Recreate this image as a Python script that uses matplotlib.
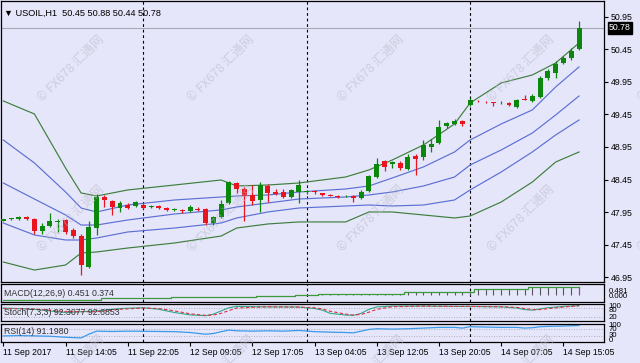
import numpy as np
import matplotlib
matplotlib.use('Agg')
import matplotlib.pyplot as plt
from matplotlib.transforms import blended_transform_factory

# ── candle data (USOIL H1) ───────────────────────────────
opens = [47.82, 47.84, 47.84, 47.88, 47.845, 47.655, 47.73, 47.80, 47.83, 47.675,
         47.585, 47.115, 47.705, 48.18, 48.12, 48.02, 48.065, 48.045, 48.065, 48.03,
         48.05, 48.02, 47.985, 47.99, 47.965, 48.005, 48.005, 47.79, 47.88, 48.09,
         48.39, 48.30, 48.22, 48.135, 48.35, 48.265, 48.265, 48.18, 48.265, 48.26,
         48.265, 48.245, 48.22, 48.20, 48.19, 48.195, 48.165, 48.275, 48.49, 48.735,
         48.69, 48.705, 48.61, 48.81, 48.795, 48.95, 49.01, 49.27, 49.30, 49.35,
         49.595, 49.655, 49.64, 49.635, 49.633, 49.62, 49.565, 49.685, 49.655, 49.715,
         50.01, 50.085, 50.24, 50.315, 50.45]
highs = [47.85, 47.855, 47.89, 47.89, 47.855, 47.79, 47.94, 47.84, 47.84, 47.70,
         47.615, 47.82, 48.23, 48.21, 48.135, 48.12, 48.09, 48.12, 48.085, 48.06,
         48.06, 48.03, 48.015, 48.00, 48.06, 48.035, 48.02, 47.89, 48.135, 48.435,
         48.41, 48.33, 48.365, 48.415, 48.38, 48.305, 48.305, 48.305, 48.445, 48.29,
         48.29, 48.25, 48.23, 48.205, 48.22, 48.21, 48.29, 48.52, 48.78, 48.75,
         48.735, 48.735, 48.84, 48.84, 49.055, 49.07, 49.365, 49.335, 49.38, 49.365,
         49.70, 49.665, 49.65, 49.64, 49.656, 49.64, 49.685, 49.75, 49.765, 50.04,
         50.145, 50.27, 50.345, 50.47, 50.88]
lows = [47.81, 47.835, 47.835, 47.835, 47.61, 47.61, 47.715, 47.645, 47.61, 47.555,
        46.985, 47.09, 47.60, 48.03, 47.905, 47.95, 48.00, 48.03, 48.00, 48.01,
        48.00, 47.965, 47.965, 47.935, 47.95, 47.96, 47.75, 47.75, 47.86, 48.075,
        48.245, 47.815, 48.06, 47.955, 48.11, 48.205, 48.165, 48.165, 48.09, 48.235,
        48.23, 48.195, 48.19, 48.165, 48.18, 48.11, 48.15, 48.26, 48.475, 48.58,
        48.625, 48.595, 48.595, 48.52, 48.75, 48.875, 48.995, 49.24, 49.285, 49.27,
        49.58, 49.64, 49.625, 49.58, 49.61, 49.58, 49.55, 49.665, 49.64, 49.70,
        49.98, 50.01, 50.225, 50.285, 50.44]
closes = [47.84, 47.845, 47.875, 47.845, 47.655, 47.74, 47.815, 47.82, 47.645, 47.59,
          47.14, 47.715, 48.18, 48.13, 48.03, 48.09, 48.02, 48.10, 48.02, 48.05,
          48.02, 47.985, 48.00, 47.965, 48.03, 47.985, 47.79, 47.87, 48.08, 48.405,
          48.305, 48.19, 48.115, 48.365, 48.245, 48.235, 48.18, 48.29, 48.365, 48.265,
          48.26, 48.215, 48.20, 48.175, 48.195, 48.16, 48.265, 48.505, 48.69, 48.645,
          48.72, 48.625, 48.795, 48.765, 48.98, 48.995, 49.255, 49.31, 49.355, 49.295,
          49.67, 49.65, 49.635, 49.625, 49.64, 49.60, 49.67, 49.67, 49.735, 50.01,
          50.115, 50.23, 50.315, 50.425, 50.78]

# ── band lines read at sample bars ───────────────────────
band_idx = [0, 4, 8, 10, 12, 16, 22, 28, 30, 34, 38, 44, 47, 50, 54, 58, 60, 64, 68, 71, 74]
band_up2 = [49.656, 49.456, 48.627, 48.244, 48.197, 48.290, 48.366, 48.443, 48.351, 48.366, 48.397,
            48.489, 48.597, 48.750, 48.980, 49.303, 49.625, 49.932, 50.055, 50.239, 50.546]
band_up1 = [49.057, 48.704, 48.259, 48.013, 47.952, 48.059, 48.136, 48.182, 48.197, 48.213, 48.259,
            48.305, 48.351, 48.474, 48.643, 48.873, 49.057, 49.303, 49.518, 49.871, 50.178]
band_mid = [48.397, 48.151, 47.906, 47.752, 47.752, 47.829, 47.921, 47.983, 48.029, 48.090, 48.151,
            48.182, 48.213, 48.259, 48.351, 48.489, 48.673, 48.904, 49.164, 49.441, 49.732]
band_lo1 = [47.783, 47.599, 47.522, 47.522, 47.553, 47.645, 47.706, 47.783, 47.860, 47.952, 48.013,
            48.044, 48.059, 48.044, 48.059, 48.136, 48.290, 48.566, 48.873, 49.134, 49.364]
band_lo2 = [47.184, 47.061, 47.138, 47.322, 47.338, 47.399, 47.476, 47.583, 47.706, 47.768, 47.799,
            47.799, 47.952, 47.952, 47.906, 47.860, 47.890, 48.105, 48.412, 48.719, 48.873]

# ── indicators ───────────────────────────────────────────
macd_vals = [-0.20] * 13 + [-0.12, -0.12, -0.11, -0.11, -0.10, -0.10, -0.10, -0.09, -0.09, -0.08,
                            -0.08, -0.07, -0.07, -0.07, -0.06, -0.06, -0.05, -0.05, -0.05, -0.05,
                            -0.04, -0.04, -0.03, -0.02, -0.01, 0.0, 0.01, 0.02] \
            + [0.05] * 11 + [0.14] * 9 + [0.25] * 7 + [0.34] * 7

stoch_idx = [0, 4, 8, 12, 15, 18, 20, 22, 24, 26, 27, 28, 29, 30, 34, 38, 40, 41, 42, 44, 45,
             46, 47, 48, 50, 54, 58, 60, 64, 66, 67, 68, 69, 70, 72, 74]
stoch_main = [78, 70, 50, 60, 75, 80, 70, 50, 35, 30, 40, 60, 80, 88, 85, 84, 75, 65, 45, 34, 32,
              45, 70, 85, 90, 90, 88, 88, 85, 78, 68, 65, 72, 80, 88, 92.3]
stoch_sig = [75, 72, 55, 55, 70, 78, 75, 60, 42, 32, 34, 45, 62, 78, 86, 84, 80, 72, 58, 40, 34,
             38, 52, 70, 86, 90, 88, 88, 86, 82, 75, 68, 68, 74, 84, 92.7]

rsi_idx = [0, 2, 4, 6, 8, 10, 11, 12, 14, 16, 18, 20, 22, 24, 26, 27, 28, 29, 30, 32, 34, 36, 38,
           40, 42, 44, 45, 46, 47, 48, 50, 52, 54, 56, 58, 59, 60, 62, 64, 66, 67, 68, 69, 70, 72, 74]
rsi_vals = [30, 32, 30, 28, 22, 18, 40, 58, 56, 58, 57, 56, 55, 50, 40, 44, 55, 64, 60, 58, 60, 58,
            62, 55, 52, 50, 48, 58, 68, 72, 70, 72, 76, 80, 80, 76, 84, 82, 80, 80, 76, 78, 84, 86,
            88, 91.2]

price_ticks = [46.95, 47.45, 47.95, 48.45, 48.95, 49.45, 49.95, 50.45, 50.95]
time_idx = [0, 8, 16, 24, 32, 40, 48, 56, 64, 72]
time_labels = ['11 Sep 2017', '11 Sep 14:05', '11 Sep 22:05', '12 Sep 09:05', '12 Sep 17:05',
               '13 Sep 04:05', '13 Sep 12:05', '13 Sep 20:05', '14 Sep 07:05', '14 Sep 15:05']
day_breaks = [18, 39, 60]

W, H = 640, 363
BG = '#E6E6FA'
UP, DOWN = '#0B870B', '#E8141E'
BLUE, GREEN = '#5C70D4', '#3E7E3E'
FONT = ['Liberation Sans', 'DejaVu Sans']
XLIM = (-0.36, 77.21)

plt.rcParams['font.family'] = FONT
fig = plt.figure(figsize=(W / 100, H / 100), dpi=100, facecolor=BG)


def px_axes(x0, y0, x1, y1):
    ax = fig.add_axes([x0 / W, 1 - y1 / H, (x1 - x0) / W, (y1 - y0) / H])
    ax.set_facecolor(BG)
    ax.set_xlim(*XLIM)
    for s in ax.spines.values():
        s.set_color('black')
        s.set_linewidth(0.9)
    ax.tick_params(left=False, labelleft=False, bottom=False, labelbottom=False)
    return ax


# ── main price panel ─────────────────────────────────────
ax = px_axes(0.5, 1, 604, 281.5)
ax.set_ylim(46.885, 51.19)
idx = np.arange(len(opens))
o, h, l, c = map(np.array, (opens, highs, lows, closes))
col = np.where(c >= o, UP, DOWN)
ax.vlines(idx, l, h, colors=col, lw=0.9, zorder=3)
body = np.maximum(np.abs(c - o), 0.012)
ax.bar(idx, body, bottom=np.minimum(o, c), width=0.64, color=col, lw=0, zorder=4)

for vals, cc in [(band_up2, GREEN), (band_up1, BLUE), (band_mid, BLUE), (band_lo1, BLUE), (band_lo2, GREEN)]:
    ax.plot(band_idx, vals, color=cc, lw=0.85, zorder=2)

ax.axhline(closes[-1], color='#A8A8B4', lw=0.8, zorder=1)
ax.yaxis.tick_right()
ax.set_yticks(price_ticks)
ax.set_yticklabels([f'{p:.2f}' for p in price_ticks])
ax.tick_params(axis='y', right=True, labelright=True, direction='out', length=3, width=0.8,
               pad=2, labelsize=6.3, colors='black')
tr = blended_transform_factory(ax.transAxes, ax.transData)
ax.text(1.008, closes[-1], f'{closes[-1]:.2f}', transform=tr, fontsize=6.3, color='white',
        va='center', ha='left', bbox=dict(boxstyle='square,pad=0.15', fc='black', ec='black'))
ax.text(4 / 603.5, 0.955, '\u25bc USOIL,H1  50.45 50.88 50.44 50.78', transform=ax.transAxes,
        fontsize=6.6, color='black', va='center', ha='left')

# ── MACD ─────────────────────────────────────────────────
ax_m = px_axes(0.5, 283.5, 604, 301.5)
ax_m.set_ylim(-0.254, 0.484)
pos = [(i, v) for i, v in enumerate(macd_vals) if v > 0]
ax_m.vlines([p[0] for p in pos[:-1]], 0, [p[1] for p in pos[:-1]], colors='#555560', lw=0.8)
ax_m.vlines([pos[-1][0]], 0, [pos[-1][1]], colors='#A040C0', lw=0.9)
ax_m.step(idx, macd_vals, where='mid', color='#3C9A3C', lw=0.9)
ax_m.text(4 / 603.5, 0.45, 'MACD(12,26,9) 0.451 0.374', transform=ax_m.transAxes,
          fontsize=6.3, color='#303030', va='center')
ax_m.text(1.008, 0.58, '0.481', transform=ax_m.transAxes, fontsize=5.6, va='center')
ax_m.text(1.008, 0.3, '0.000', transform=ax_m.transAxes, fontsize=5.6, va='center')

# ── Stochastic ───────────────────────────────────────────
ax_s = px_axes(0.5, 303.5, 604, 321)
ax_s.set_ylim(-3.1, 106.3)
for lev in (80, 20):
    ax_s.axhline(lev, color='#A0A0A8', lw=0.6, ls=(0, (1, 2)))
ax_s.plot(stoch_idx, stoch_main, color='#2EA88A', lw=0.8)
ax_s.plot(stoch_idx, stoch_sig, color='#E03040', lw=0.8, ls=(0, (3, 2)))
ax_s.text(4 / 603.5, 0.5, 'Stoch(7,3,3) 92.3077 92.6853', transform=ax_s.transAxes,
          fontsize=6.3, color='#303030', va='center')
for lab, yy in [('100', 0.85), ('80', 0.6), ('20', 0.2)]:
    ax_s.text(1.008, yy, lab, transform=ax_s.transAxes, fontsize=5.6, va='center')

# ── RSI ──────────────────────────────────────────────────
ax_r = px_axes(0.5, 323.5, 604, 341.5)
ax_r.set_ylim(-2.9, 102.9)
for lev in (70, 30):
    ax_r.axhline(lev, color='#A0A0A8', lw=0.6, ls=(0, (1, 2)))
ax_r.plot(rsi_idx, rsi_vals, color='#3A9AEA', lw=0.9)
ax_r.text(4 / 603.5, 0.55, 'RSI(14) 91.1980', transform=ax_r.transAxes,
          fontsize=6.3, color='#303030', va='center')
for lab, yy in [('100', 0.88), ('70', 0.64), ('30', 0.32), ('0', 0.08)]:
    ax_r.text(1.008, yy, lab, transform=ax_r.transAxes, fontsize=5.6, va='center')

ax_r.set_xticks(time_idx)
ax_r.set_xticklabels(time_labels)
ax_r.tick_params(axis='x', bottom=True, labelbottom=True, direction='out', length=3, width=0.8,
                 pad=1.5, labelsize=6.2, colors='black')
for t in ax_r.get_xticklabels():
    t.set_ha('left')

# day separators through every panel
for a in (ax, ax_m, ax_s, ax_r):
    for d in day_breaks:
        a.axvline(d, color='black', lw=0.8, ls=(0, (2.5, 2.5)), zorder=1)

# watermark
for wx in (40, 190, 340, 490, 640):
    for wy in (100, 250, 400):
        fig.text(wx / W, 1 - wy / H, '\u00a9 FX678 汇通网', rotation=45, rotation_mode='anchor',
                 ha='left', va='center', fontsize=9, color='#B8B8C8', alpha=0.55,
                 family=['Noto Sans CJK SC', 'DejaVu Sans'], zorder=10)

fig.savefig('out.png', dpi=100, facecolor=BG)
